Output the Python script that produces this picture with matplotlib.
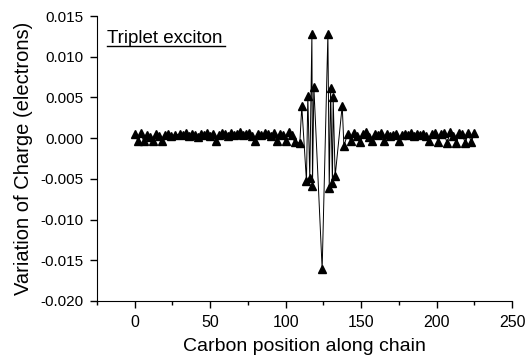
import numpy as np
import matplotlib
matplotlib.use("Agg")
import matplotlib.pyplot as plt
from matplotlib.ticker import MultipleLocator, FormatStrFormatter

plt.rcParams['font.family'] = ['Liberation Sans', 'DejaVu Sans']

# carbon positions along the chain and charge variation (electrons)
left_pos = [0, 2, 4, 6, 8, 10, 12, 14, 16, 18, 20, 22, 24, 27, 30, 32, 34, 36, 38, 40,
            42, 44, 46, 48, 50, 52, 54, 56, 58, 60, 62, 64, 66, 68, 70, 72, 74, 76,
            78, 80, 82, 84, 86, 88, 90, 92, 94, 96, 98, 100, 102, 104, 106]
left_chg = [0.0005, -0.0003, 0.0006, -0.0004, 0.0004, 0.0002, -0.0003, 0.0005, 0.0003,
            -0.0004, 0.0004, 0.0005, 0.0003, 0.0004, 0.0005, 0.0004, 0.0006, 0.0003,
            0.0005, 0.0004, 0.0002, 0.0005, 0.0004, 0.0006, 0.0003, 0.0005, -0.0003,
            0.0004, 0.0006, 0.0005, 0.0003, 0.0006, 0.0004, 0.0005, 0.0007, 0.0004,
            0.0005, 0.0006, 0.0003, -0.0004, 0.0005, 0.0004, 0.0006, 0.0005, 0.0003,
            0.0006, -0.0003, 0.0005, 0.0004, -0.0004, 0.0007, 0.0004, -0.0005]

mid_pos = [109.4, 110.7, 113.8, 114.7, 116.0, 117.4, 117.8, 118.7, 124.2, 128.0,
           128.9, 129.8, 131.0, 131.5, 132.8, 137.5, 138.6]
mid_chg = [-0.0006, 0.0039, -0.0053, 0.0052, -0.0049, 0.0128, -0.0059, 0.0063,
           -0.0161, 0.0128, -0.0061, 0.0061, -0.0055, 0.0050, -0.0047, 0.0040, -0.0010]

right_pos = [141, 143, 145, 147, 149, 151, 153, 155, 157, 159, 161, 163, 165, 167, 169,
             171, 173, 175, 177, 179, 181, 183, 185, 187, 189, 191, 193, 195, 197, 199,
             201, 203, 205, 207, 209, 211, 213, 215, 217, 219, 221, 223, 225]
right_chg = [0.0005, -0.0003, 0.0006, 0.0003, -0.0005, 0.0005, 0.0007, 0.0002, -0.0004,
             0.0005, 0.0004, 0.0006, -0.0003, 0.0005, 0.0003, 0.0004, 0.0005, -0.0004,
             0.0004, 0.0005, 0.0004, 0.0006, 0.0003, 0.0005, 0.0004, 0.0005, 0.0003,
             -0.0004, 0.0005, 0.0006, -0.0005, 0.0005, 0.0006, -0.0006, 0.0007, 0.0003,
             -0.0006, 0.0006, 0.0005, -0.0006, 0.0006, -0.0005, 0.0006]

pos = np.array(left_pos + mid_pos + right_pos)
chg = np.array(left_chg + mid_chg + right_chg)

fig = plt.figure(figsize=(5.28, 3.62), dpi=100)
ax = fig.add_axes([97 / 528, 1 - 301 / 362, (512 - 97) / 528, (301 - 16) / 362])

ax.plot(pos, chg, color='black', lw=0.7, marker='^', markersize=6,
        markerfacecolor='black', markeredgecolor='black')

ax.set_xlim(-25, 250)
ax.set_ylim(-0.020, 0.015)
ax.xaxis.set_major_locator(MultipleLocator(50))
ax.xaxis.set_minor_locator(MultipleLocator(25))
ax.yaxis.set_major_locator(MultipleLocator(0.005))
ax.yaxis.set_major_formatter(FormatStrFormatter('%.3f'))

for s in ['top', 'right']:
    ax.spines[s].set_visible(False)
ax.tick_params(which='major', direction='out', length=5, width=1)
ax.tick_params(which='minor', direction='out', length=3, width=1)
ax.tick_params(axis='x', labelsize=11.5, pad=5)
ax.tick_params(axis='y', labelsize=11, pad=5)

ax.set_xlabel('Carbon position along chain', fontsize=14, labelpad=6)
ax.set_ylabel('Variation of Charge (electrons)', fontsize=14.5, labelpad=5)

ax.text(0.024, 0.905, 'Triplet exciton', transform=ax.transAxes, fontsize=13.5,
        va='baseline', ha='left')
ax.plot([0.024, 0.308], [0.894, 0.894], transform=ax.transAxes, color='black', lw=1)

fig.savefig('out.png', dpi=100)
